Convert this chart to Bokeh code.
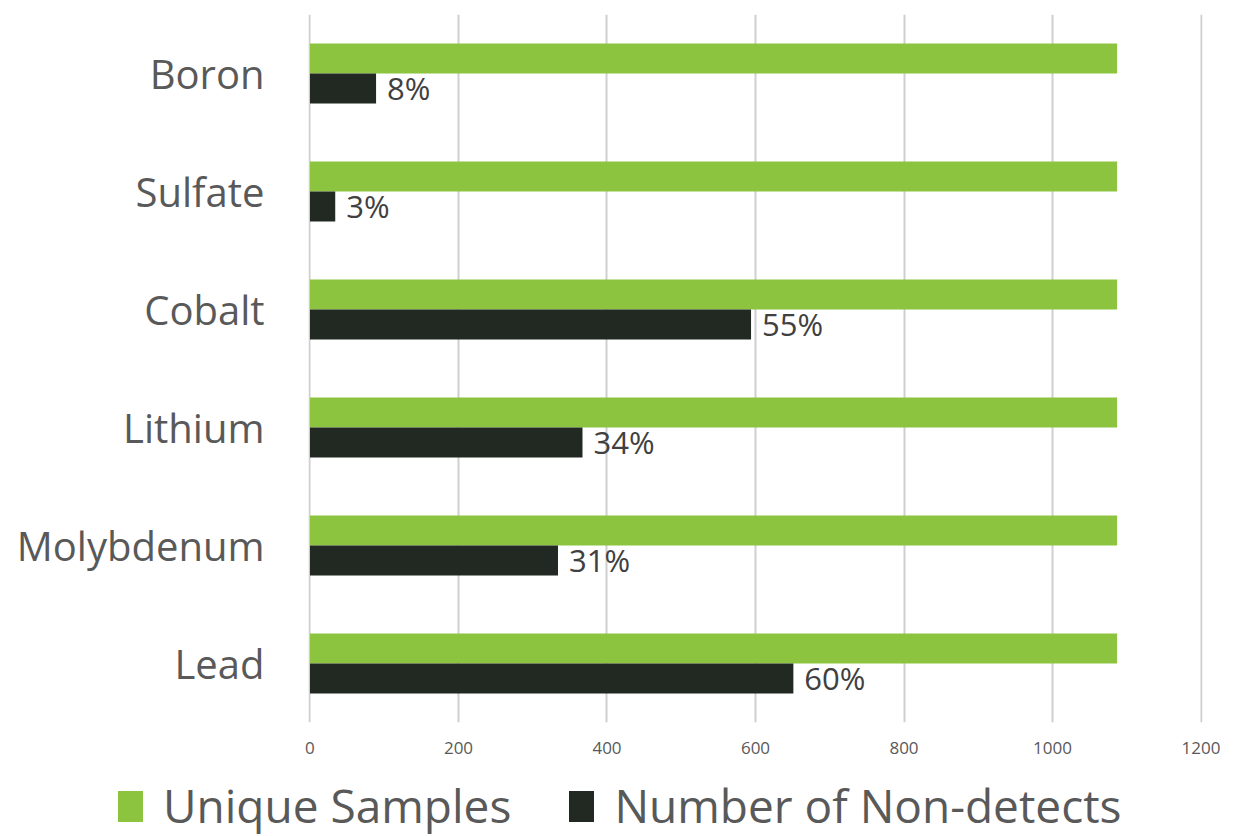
from bokeh.plotting import figure
from bokeh.layouts import column
from bokeh.models import FactorRange, Range1d, ColumnDataSource, FixedTicker, Div
from bokeh.transform import dodge
from bokeh.core.properties import value
from bokeh.embed import file_html
from bokeh.resources import INLINE

# Analytes, top to bottom
analytes = ["Boron", "Sulfate", "Cobalt", "Lithium", "Molybdenum", "Lead"]
unique_samples = [1087, 1087, 1087, 1087, 1087, 1087]
non_detects = [89, 34, 594, 367, 334, 651]
x_ticks = [0, 200, 400, 600, 800, 1000, 1200]
series_names = ["Unique Samples", "Number of Non-detects"]

pct_labels = [f"{round(n / u * 100)}%" for n, u in zip(non_detects, unique_samples)]

src = ColumnDataSource(dict(
    cat=analytes,
    us=unique_samples,
    nd=non_detects,
    pct=pct_labels,
))

FONT = "Open Sans"
GREEN = "#8cc43f"
DARK = "#222822"
series_colors = [GREEN, DARK]

fig = figure(
    width=1236, height=770,
    y_range=FactorRange(factors=list(reversed(analytes))),
    x_range=Range1d(-2, 1202),
    output_backend="svg", toolbar_location=None,
    min_border_left=308, min_border_right=34,
    min_border_top=14, min_border_bottom=48,
)
fig.outline_line_color = None
fig.background_fill_color = "white"
fig.border_fill_color = "white"

bar_h = 0.254
fig.hbar(y=dodge("cat", bar_h / 2, range=fig.y_range), right="us", left=0,
         height=bar_h, source=src, fill_color=GREEN, line_color=None)
fig.hbar(y=dodge("cat", -bar_h / 2, range=fig.y_range), right="nd", left=0,
         height=bar_h, source=src, fill_color=DARK, line_color=None)

fig.text(x="nd", y=dodge("cat", -bar_h / 2, range=fig.y_range), text="pct", source=src,
         x_offset=11, text_baseline="middle", text_align="left",
         text_font=value(FONT), text_font_size="31px", text_color="#404040")

# Grid
fig.ygrid.grid_line_color = None
fig.xgrid.ticker = FixedTicker(ticks=x_ticks)
fig.xgrid.grid_line_color = "#cfcfcf"
fig.xgrid.grid_line_width = 2

# X axis
fig.xaxis.ticker = FixedTicker(ticks=x_ticks)
fig.xaxis.axis_line_color = None
fig.xaxis.major_tick_line_color = None
fig.xaxis.minor_tick_line_color = None
fig.xaxis.major_label_text_font = FONT
fig.xaxis.major_label_text_font_size = "17px"
fig.xaxis.major_label_text_color = "#595959"
fig.xaxis.major_label_standoff = 13

# Y axis
fig.yaxis.axis_line_color = None
fig.yaxis.major_tick_line_color = None
fig.yaxis.minor_tick_line_color = None
fig.yaxis.major_label_text_font = FONT
fig.yaxis.major_label_text_font_size = "40px"
fig.yaxis.major_label_text_color = "#595959"
fig.yaxis.major_label_standoff = 38

# Legend strip under the chart
entries = []
for i, (name, color) in enumerate(zip(series_names, series_colors)):
    gap = "0" if i == 0 else "58px"
    entries.append(
        f'<span style="display:inline-flex;align-items:center;margin-left:{gap};">'
        f'<span style="display:inline-block;width:25px;height:31px;background:{color};'
        f'margin-right:20px;"></span>'
        f'<span>{name}</span></span>'
    )
key = Div(
    text=(
        f'<div style="display:flex;align-items:center;height:66px;padding-left:118px;'
        f'font-family:\'{FONT}\';font-size:46px;color:#595959;white-space:nowrap;'
        f'line-height:1.2;position:relative;top:3px;">'
        + "".join(entries) + "</div>"
    ),
    width=1236, height=66, margin=0,
)

p = column(fig, key, spacing=0)

open("out.html", "w").write(file_html(p, INLINE))
